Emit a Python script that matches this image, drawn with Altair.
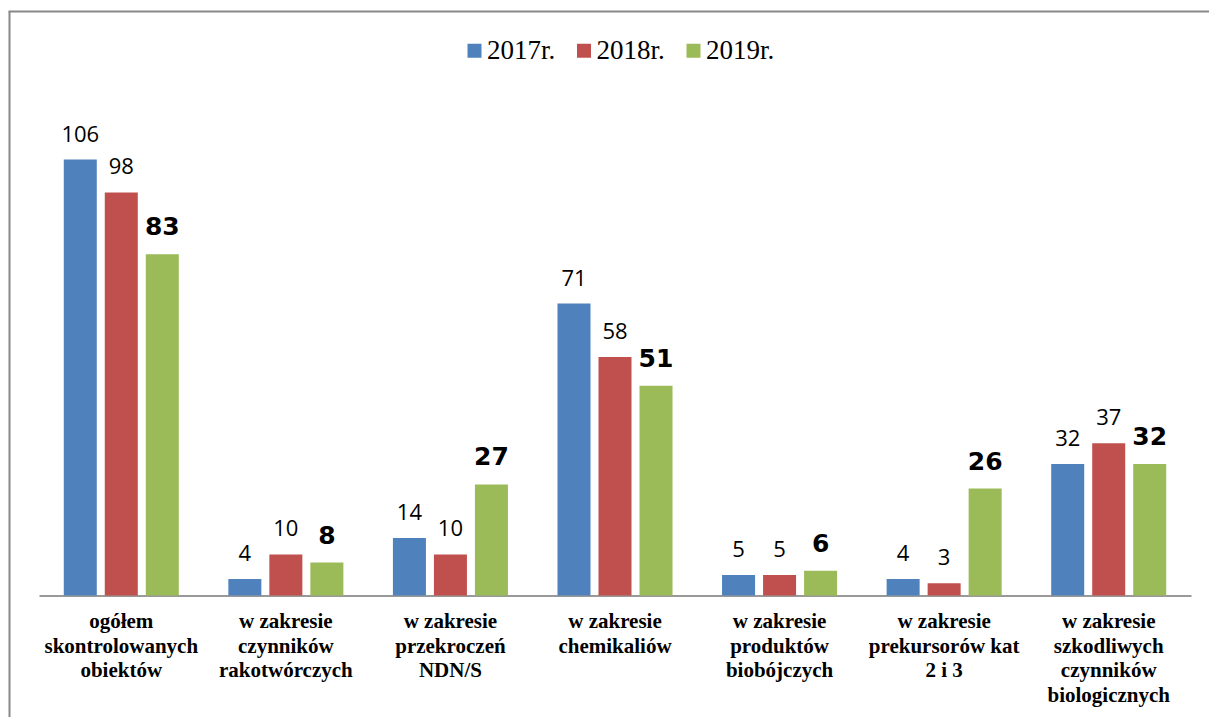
import altair as alt
import pandas as pd

# Inspection categories (line breaks split the axis labels)
categories = [
    "ogółem\nskontrolowanych\nobiektów",
    "w zakresie\nczynników\nrakotwórczych",
    "w zakresie\nprzekroczeń\nNDN/S",
    "w zakresie\nchemikaliów",
    "w zakresie\nproduktów\nbiobójczych",
    "w zakresie\nprekursorów kat\n2 i 3",
    "w zakresie\nszkodliwych\nczynników\nbiologicznych",
]
years = ["2017r.", "2018r.", "2019r."]
v2017 = [106, 4, 14, 71, 5, 4, 32]
v2018 = [98, 10, 10, 58, 5, 3, 37]
v2019 = [83, 8, 27, 51, 6, 26, 32]
colors = ["#4F81BD", "#C0504D", "#9BBB59"]

rows = []
for series, vals in zip(years, [v2017, v2018, v2019]):
    for cat, val in zip(categories, vals):
        rows.append({"kategoria": cat, "rok": series, "liczba": val})
df = pd.DataFrame(rows)

W = 1152
H = 493.5

x_enc = alt.X(
    "kategoria:N",
    sort=categories,
    scale=alt.Scale(paddingInner=0, paddingOuter=0),
    axis=alt.Axis(
        title=None,
        labelAngle=0,
        labelExpr="split(datum.label, '\\n')",
        labelFont="Liberation Serif",
        labelFontWeight="bold",
        labelFontSize=21,
        labelLineHeight=24.5,
        labelColor="black",
        labelPadding=15,
        labelLimit=400,
        labelBaseline="top",
        ticks=False,
        domainColor="#999999",
        domainWidth=2,
        grid=False,
    ),
)
xo_enc = alt.XOffset(
    "rok:N", sort=years, scale=alt.Scale(paddingInner=0.195, paddingOuter=0.604)
)
y_enc = alt.Y("liczba:Q", scale=alt.Scale(domain=[0, 120]), axis=None)
color_enc = alt.Color(
    "rok:N",
    sort=years,
    scale=alt.Scale(domain=years, range=colors),
    legend=alt.Legend(
        title=None,
        orient="none",
        legendX=422,
        legendY=-65,
        direction="horizontal",
        symbolType="square",
        symbolSize=196,
        symbolStrokeWidth=0,
        symbolOpacity=1,
        labelFont="Liberation Serif",
        labelFontSize=27,
        labelColor="black",
        labelOffset={"expr": "-1"},
        columnPadding=14.5,
        padding=0,
    ),
)

base = alt.Chart(df)

bars = base.mark_bar(opacity=1).encode(x=x_enc, xOffset=xo_enc, y=y_enc, color=color_enc)

labels_regular = (
    base.transform_filter(alt.datum.rok != "2019r.")
    .mark_text(font="Open Sans", fontSize=22, baseline="alphabetic", dy=-18, color="black")
    .encode(x=x_enc, xOffset=xo_enc, y=y_enc, text="liczba:Q")
)
labels_bold = (
    base.transform_filter(alt.datum.rok == "2019r.")
    .mark_text(
        font="DejaVu Sans", fontSize=25, fontWeight="bold", baseline="alphabetic", dy=-19, color="black"
    )
    .encode(x=x_enc, xOffset=xo_enc, y=y_enc, text="liczba:Q")
)

# Outer frame lines (top and left edge of the figure)
frame_df = pd.DataFrame({"k": [0]})
frame_left = alt.Chart(frame_df).mark_rule(color="#888888", strokeWidth=2).encode(
    x=alt.value(-29.5), y=alt.value(-90.5), y2=alt.value(620)
)
frame_top = alt.Chart(frame_df).mark_rule(color="#888888", strokeWidth=2).encode(
    x=alt.value(-30.5), x2=alt.value(1175), y=alt.value(-90.5)
)

chart = (
    alt.layer(bars, labels_regular, labels_bold, frame_left, frame_top)
    .properties(
        width=W,
        height=H,
        autosize=alt.AutoSizeParams(type="none"),
        padding={"left": 39, "top": 102, "right": 18, "bottom": 121},
        background="white",
    )
    .configure_view(stroke=None)
)

chart.save("out.html", embed_options={"renderer": "svg", "actions": False})
